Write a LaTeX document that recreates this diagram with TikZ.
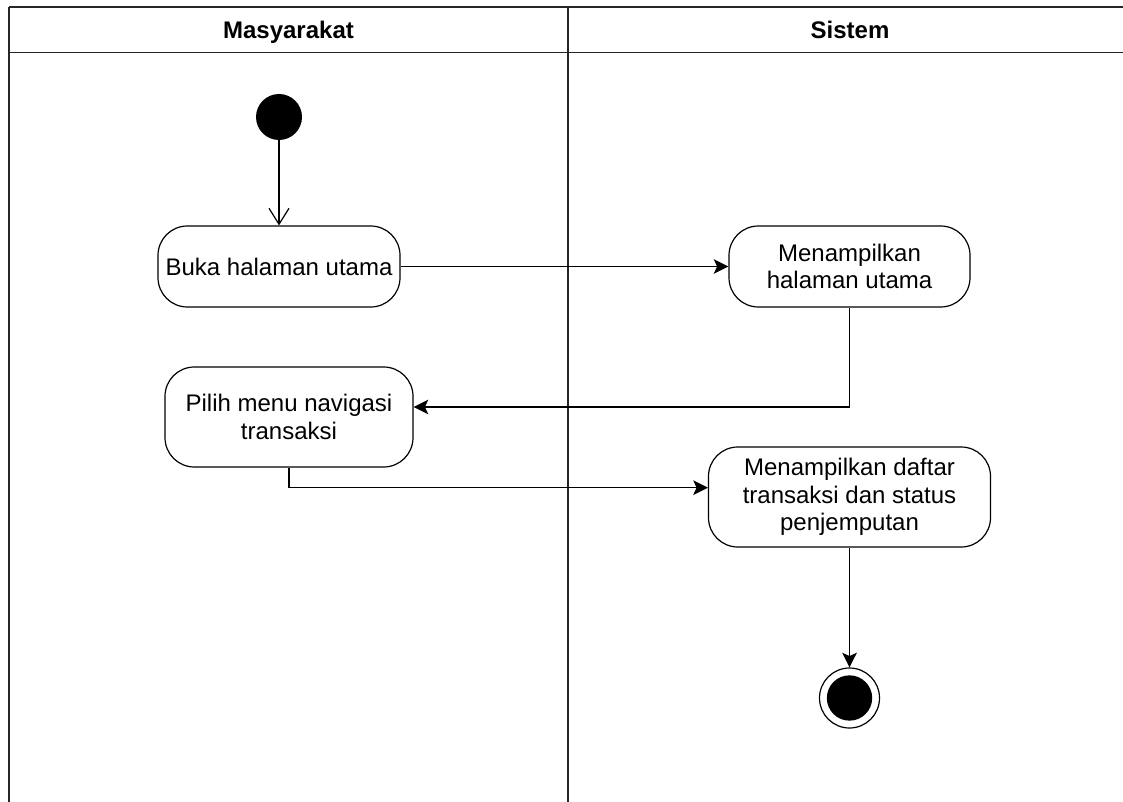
\documentclass[tikz,border=0pt]{standalone}
\usepackage{fontspec}
\setmainfont{Liberation Sans}
\usetikzlibrary{arrows.meta}
\begin{document}
\begin{tikzpicture}[x=0.75pt,y=-0.75pt,
  lane/.style={line width=1.3pt, draw=black!85},
  act/.style={draw, line width=0.9pt, rounded corners=22pt, align=center,
    font=\fontsize{18}{20.5}\selectfont, inner sep=0pt},
  flow/.style={line width=0.9pt, -{Stealth[length=11pt, width=11pt, inset=2.5pt]}},
  openflow/.style={line width=0.9pt, -{Straight Barb[length=12pt, width=15pt, line width=0.9pt]}},
  head/.style={font=\bfseries\fontsize{18}{20}\selectfont, text height=13pt, text depth=4pt}]
\useasboundingbox (0,0) rectangle (1123,802);
\clip (0,0) rectangle (1123,802);

% swimlane frame
\draw[lane] (9,7) -- (1140,7);
\draw[lane] (9,7) -- (9,812);
\draw[lane] (9,52.5) -- (1140,52.5);
\draw[lane] (568,7) -- (568,812);
\node[head] (h1) at (288.5,33) {Masyarakat};
\node[head] (h2) at (850,33) {Sistem};

% activities
\node[circle, fill=black, minimum size=34.5pt, inner sep=0pt] (start) at (279,117) {};
\node[act, minimum width=181.5pt, minimum height=60.75pt] (buka) at (279,266.5) {Buka halaman utama};
\node[act, minimum width=180.75pt, minimum height=60.75pt] (mh) at (849.5,266.5) {Menampilkan\\halaman utama};
\node[act, minimum width=186pt, minimum height=75pt] (pil) at (289,417) {Pilih menu navigasi\\transaksi};
\node[act, minimum width=211.5pt, minimum height=75pt] (md) at (849.5,497) {Menampilkan daftar\\transaksi dan status\\penjemputan};
\node[circle, draw, line width=0.9pt, minimum size=45pt, inner sep=0pt] (end) at (849.5,698) {};
\node[circle, fill=black, minimum size=34pt, inner sep=0pt] (endin) at (end.center) {};

% control flow
\draw[openflow] (start.south) -- (buka.north);
\draw[flow] (buka.east) -- (mh.west);
\draw[flow] (mh.south) |- ([yshift=7.5pt]pil.east);
\draw[flow] (pil.south) |- ([yshift=7pt]md.west);
\draw[flow] (md.south) -- (end.north);
\end{tikzpicture}
\end{document}
